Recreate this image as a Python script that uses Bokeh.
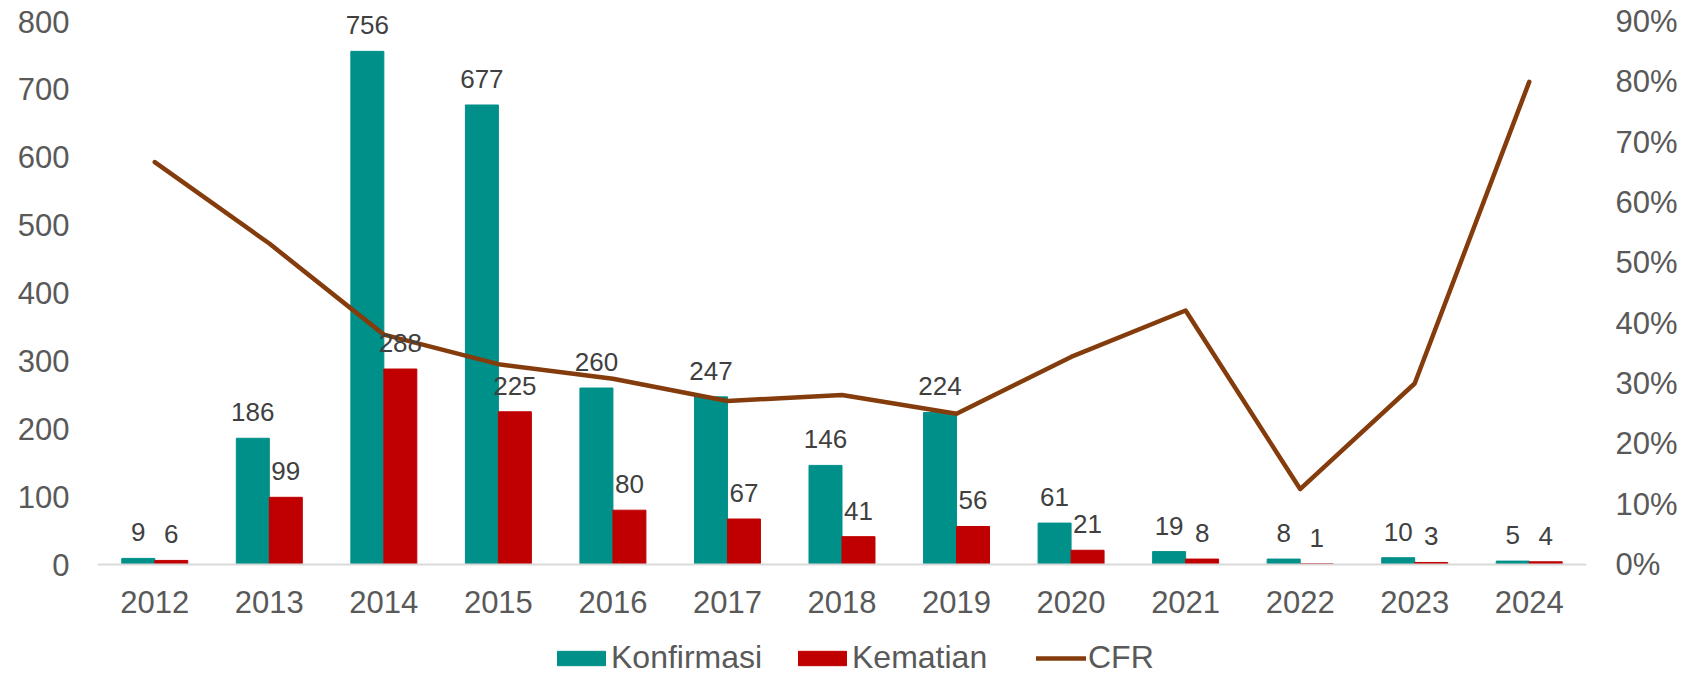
from bokeh.plotting import figure
from bokeh.models import (ColumnDataSource, FactorRange, Range1d, LinearAxis, FixedTicker,
                          NumeralTickFormatter, Legend, LegendItem)
from bokeh.transform import dodge
from bokeh.core.properties import value
from bokeh.embed import file_html
from bokeh.resources import INLINE

years = ["2012", "2013", "2014", "2015", "2016", "2017", "2018", "2019", "2020", "2021", "2022", "2023", "2024"]
konfirmasi = [9, 186, 756, 677, 260, 247, 146, 224, 61, 19, 8, 10, 5]
kematian = [6, 99, 288, 225, 80, 67, 41, 56, 21, 8, 1, 3, 4]
cfr = [0.667, 0.532, 0.381, 0.332, 0.308, 0.271, 0.281, 0.25, 0.344, 0.421, 0.125, 0.30, 0.80]
left_ticks = [0, 100, 200, 300, 400, 500, 600, 700, 800]
right_ticks = [0.0, 0.1, 0.2, 0.3, 0.4, 0.5, 0.6, 0.7, 0.8, 0.9]

TEAL = "#00908A"
RED = "#C00000"
BROWN = "#843C0C"
FONT = "Liberation Sans"
TICK_COLOR = "#595959"
LABEL_COLOR = "#404040"

# layout geometry (pixels)
FRAME_H = 676
ZERO_FROM_TOP = 564
PX_PER_UNIT = 543 / 800
y_top = ZERO_FROM_TOP / PX_PER_UNIT
y_bot = -(FRAME_H - ZERO_FROM_TOP) / PX_PER_UNIT
pct_scale = 0.9 / 800

src = ColumnDataSource(dict(
    year=years, konf=konfirmasi, kem=kematian, cfr=cfr,
    konf_t=[str(v) for v in konfirmasi], kem_t=[str(v) for v in kematian],
))

p = figure(x_range=FactorRange(*years, range_padding=0), y_range=Range1d(y_bot, y_top),
           frame_width=1489, frame_height=FRAME_H, output_backend="svg", toolbar_location=None,
           min_border_left=97, min_border_right=117, min_border_top=0, min_border_bottom=0,
           outline_line_color=None)
p.extra_y_ranges = {"pct": Range1d(y_bot * pct_scale, y_top * pct_scale)}

bw = 0.288
r1 = p.vbar(x=dodge("year", -bw / 2, range=p.x_range), top="konf", width=bw, source=src,
            fill_color=TEAL, line_color=TEAL)
r2 = p.vbar(x=dodge("year", bw / 2, range=p.x_range), top="kem", width=bw, source=src,
            fill_color=RED, line_color=RED)
r3 = p.line(x="year", y="cfr", source=src, y_range_name="pct", line_color=BROWN,
            line_width=4.5, line_cap="round", line_join="round")

for col, txt, off in (("konf", "konf_t", -bw / 2), ("kem", "kem_t", bw / 2)):
    p.text(x=dodge("year", off, range=p.x_range), y=col, text=txt, source=src,
           text_align="center", text_baseline="alphabetic", y_offset=-26,
           text_font=value(FONT), text_font_size="26px", text_color=LABEL_COLOR)

p.xgrid.visible = False
p.ygrid.visible = False

# left axis
ya = p.yaxis[0]
ya.ticker = FixedTicker(ticks=left_ticks)
ya.axis_line_color = None
ya.major_tick_line_color = None
ya.minor_tick_line_color = None
ya.major_tick_out = 0
ya.major_label_standoff = 28
ya.major_label_text_font = FONT
ya.major_label_text_font_size = "31px"
ya.major_label_text_color = TICK_COLOR

# right axis
ra = LinearAxis(y_range_name="pct", ticker=FixedTicker(ticks=right_ticks),
                formatter=NumeralTickFormatter(format="0%"))
ra.axis_line_color = None
ra.major_tick_line_color = None
ra.minor_tick_line_color = None
ra.major_tick_out = 0
ra.major_label_standoff = 29
ra.major_label_text_font = FONT
ra.major_label_text_font_size = "31px"
ra.major_label_text_color = TICK_COLOR
p.add_layout(ra, "right")

# category axis drawn at y = 0
xa = p.xaxis[0]
xa.fixed_location = 0
xa.axis_line_color = "#D9D9D9"
xa.axis_line_width = 2
xa.major_tick_line_color = None
xa.minor_tick_line_color = None
xa.major_tick_out = 0
xa.major_label_standoff = 26
xa.major_label_text_font = FONT
xa.major_label_text_font_size = "31px"
xa.major_label_text_color = TICK_COLOR

# legend: one box per entry so each swatch can be sized like the original
legend_specs = [("Konfirmasi", r1, 454, 60, 18, 0),
                ("Kematian", r2, 695, 60, 18, 0),
                ("CFR", r3, 939, 50, 18, 2)]
for label, rend, lx, gw, gh, ls in legend_specs:
    lg = Legend(items=[LegendItem(label=label, renderers=[rend])],
                orientation="horizontal", location=(lx, 0),
                label_text_font=FONT, label_text_font_size="32px", label_text_color=TICK_COLOR,
                glyph_width=gw, glyph_height=gh, label_standoff=ls,
                padding=0, margin=0, border_line_color=None, background_fill_alpha=0)
    p.add_layout(lg, "center")

open("out.html", "w").write(file_html(p, INLINE))
